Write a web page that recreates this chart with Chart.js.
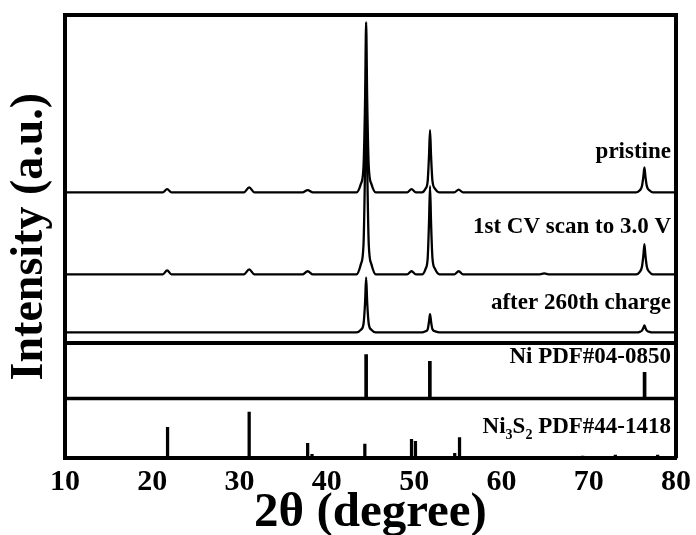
<!DOCTYPE html>
<html>
<head>
<meta charset="utf-8">
<script src="https://cdn.jsdelivr.net/npm/chart.js@4.4.1/dist/chart.umd.min.js"></script>
<style>
    html, body { margin: 0; padding: 0; background: #fff; }
</style>
</head>
<body>
<canvas id="xrdChart" width="696" height="535"></canvas>
<script>
// 2-theta grid (degree) shared by the three measured patterns
const twoTheta = [10,
    21.2, 21.7, 22.2,
    30.5, 31.1, 31.7,
    37.2, 37.8, 38.4,
    43.4, 43.9, 44.2, 44.38, 44.5, 44.62, 44.8, 45.1, 45.6,
    49.2, 49.7, 50.2,
    50.9, 51.3, 51.55, 51.7, 51.82, 51.94, 52.1, 52.4, 52.9,
    54.6, 55.1, 55.6,
    64.4, 64.9, 65.4,
    75.45, 75.85, 76.1, 76.26, 76.38, 76.5, 76.66, 76.95, 77.35,
    80];

// intensities (a.u.) above each pattern's own baseline
const pristine = [0,
    0, 0.7, 0,
    0, 1.1, 0,
    0, 0.5, 0,
    0, 1.9, 5.8, 21, 38.4, 21, 5.8, 1.9, 0,
    0, 0.7, 0,
    0, 0.8, 2.5, 8.1, 14.0, 8.1, 2.5, 0.8, 0,
    0, 0.6, 0,
    0, 0, 0,
    0, 0.45, 1.4, 3.5, 5.6, 3.5, 1.4, 0.45, 0,
    0];
const cvScan = [0,
    0, 0.9, 0,
    0, 1.1, 0,
    0, 0.7, 0,
    0, 2.3, 6.8, 25, 45, 25, 6.8, 2.3, 0,
    0, 0.7, 0,
    0, 1.2, 3.6, 11.5, 19.9, 11.5, 3.6, 1.2, 0,
    0, 0.7, 0,
    0, 0.2, 0,
    0, 0.55, 1.7, 4.2, 6.8, 4.2, 1.7, 0.55, 0,
    0];
const after260 = [0,
    0, 0, 0,
    0, 0, 0,
    0, 0, 0,
    0, 0.6, 1.9, 6.8, 12.4, 6.8, 1.9, 0.6, 0,
    0, 0, 0,
    0, 0.25, 0.7, 2.4, 4.1, 2.4, 0.7, 0.25, 0,
    0, 0, 0,
    0, 0, 0,
    0, 0.13, 0.4, 1.0, 1.6, 1.0, 0.4, 0.13, 0,
    0];
// stacking offsets of the three patterns
const offsets = [60.0, 41.5, 28.4];

// reference cards
const niPeaks = [44.5, 51.8, 76.4];
const niHeights = [9.9, 8.4, 5.9];
const ni3s2Peaks = [21.75, 31.1, 37.8, 38.3, 44.35, 49.7, 50.15, 54.65, 55.2, 69.3, 73.05, 77.9];
const ni3s2Heights = [7.0, 10.4, 3.4, 0.9, 3.2, 4.3, 3.8, 1.1, 4.7, 0.5, 0.7, 0.7];

// panel bases on the intensity axis
const niBase = 13.5;
const topBase = 26.0;

const patternLabels = ['pristine', '1st CV scan to 3.0 V', 'after 260th charge', 'Ni PDF#04-0850', 'Ni3S2 PDF#44-1418'];

const serif = '"Liberation Serif", "Times New Roman", serif';
Chart.defaults.font.family = serif;
Chart.defaults.color = '#000';

function pattern(values, offset) {
    return twoTheta.map((x, i) => ({ x: x, y: values[i] + offset }));
}

function sticks(pos, heights, base) {
    return pos.map((x, i) => ({ x: x, y: [base, base + heights[i]] }));
}

// draws a label right-aligned, digits inside a chemical formula become subscripts
function drawLabel(ctx, text, right, midY) {
    const parts = [];
    text.split(' ').forEach((word, w) => {
        const prefix = w > 0 ? ' ' : '';
        if (/^(?:[A-Z][a-z]?\d*)+$/.test(word) && /\d/.test(word)) {
            if (prefix) parts.push({ t: prefix, sub: false });
            word.split(/(\d+)/).filter(Boolean).forEach(p => {
                parts.push({ t: p, sub: /^\d+$/.test(p) });
            });
        } else {
            parts.push({ t: prefix + word, sub: false });
        }
    });
    const mainFont = 'bold 23px ' + serif;
    const subFont = 'bold 14px ' + serif;
    let total = 0;
    parts.forEach(p => {
        ctx.font = p.sub ? subFont : mainFont;
        p.w = ctx.measureText(p.t).width;
        total += p.w;
    });
    let x = right - total;
    ctx.textAlign = 'left';
    ctx.textBaseline = 'middle';
    parts.forEach(p => {
        ctx.font = p.sub ? subFont : mainFont;
        ctx.fillText(p.t, x, p.sub ? midY + 8 : midY);
        x += p.w;
    });
}

const panelPlugin = {
    id: 'panels',
    afterDatasetsDraw(chart, args, opts) {
        const { ctx, chartArea: a, scales: { y } } = chart;
        ctx.save();
        ctx.strokeStyle = '#000';
        ctx.lineWidth = 4;
        ctx.beginPath();
        ctx.moveTo(a.left, a.top);
        ctx.lineTo(a.right, a.top);
        ctx.lineTo(a.right, a.bottom);
        ctx.stroke();

        [topBase, niBase].forEach((v, i) => {
            const py = y.getPixelForValue(v);
            ctx.lineWidth = i === 0 ? 4 : 3.5;
            ctx.beginPath();
            ctx.moveTo(a.left, py);
            ctx.lineTo(a.right, py);
            ctx.stroke();
        });

        ctx.fillStyle = '#000';
        opts.levels.forEach((lv, i) => {
            drawLabel(ctx, patternLabels[i], a.right - 5, y.getPixelForValue(lv));
        });
        ctx.restore();
    }
};

const lineStyle = {
    type: 'line',
    borderColor: '#000',
    borderWidth: 2.3,
    pointRadius: 0,
    cubicInterpolationMode: 'monotone',
    fill: false
};

const barStyle = {
    type: 'bar',
    backgroundColor: '#000',
    borderWidth: 0,
    barThickness: 3,
    grouped: false
};

new Chart(document.getElementById('xrdChart'), {
    type: 'line',
    data: {
        datasets: [
            Object.assign({ label: patternLabels[0], data: pattern(pristine, offsets[0]) }, lineStyle),
            Object.assign({ label: patternLabels[1], data: pattern(cvScan, offsets[1]) }, lineStyle),
            Object.assign({ label: patternLabels[2], data: pattern(after260, offsets[2]) }, lineStyle),
            Object.assign({ label: patternLabels[3], data: sticks(niPeaks, niHeights, niBase) }, barStyle),
            Object.assign({ label: patternLabels[4], data: sticks(ni3s2Peaks, ni3s2Heights, 0) }, barStyle, { barThickness: 2.6 })
        ]
    },
    options: {
        responsive: false,
        animation: false,
        events: [],
        layout: { padding: { left: 5, right: 20, top: 15, bottom: 0 } },
        plugins: {
            legend: { display: false },
            tooltip: { enabled: false },
            panels: { levels: [69.1, 52.1, 35.0, 22.8, 7.0] }
        },
        scales: {
            x: {
                type: 'linear',
                min: 10,
                max: 80,
                offset: false,
                // let the "80" label hang into the outer margin
                afterFit: scale => { scale.paddingRight = 0; scale.paddingLeft = 0; },
                grid: { display: false, drawTicks: false },
                border: { display: true, color: '#000', width: 4 },
                ticks: {
                    stepSize: 10,
                    padding: 9,
                    maxRotation: 0,
                    color: '#000',
                    font: { size: 30, weight: 'bold', lineHeight: 1 }
                },
                title: {
                    display: true,
                    text: '2θ (degree)',
                    color: '#000',
                    font: { size: 49, weight: 'bold', lineHeight: 0.3 },
                    padding: { top: 0, bottom: 14 }
                }
            },
            y: {
                min: 0,
                max: 100,
                grid: { display: false, drawTicks: false },
                border: { display: true, color: '#000', width: 4 },
                ticks: { display: false },
                title: {
                    display: true,
                    text: 'Intensity (a.u.)',
                    color: '#000',
                    font: { size: 46, weight: 'bold', lineHeight: 1 },
                    padding: { top: 2, bottom: 12 }
                }
            }
        }
    },
    plugins: [panelPlugin]
});
</script>
</body>
</html>
